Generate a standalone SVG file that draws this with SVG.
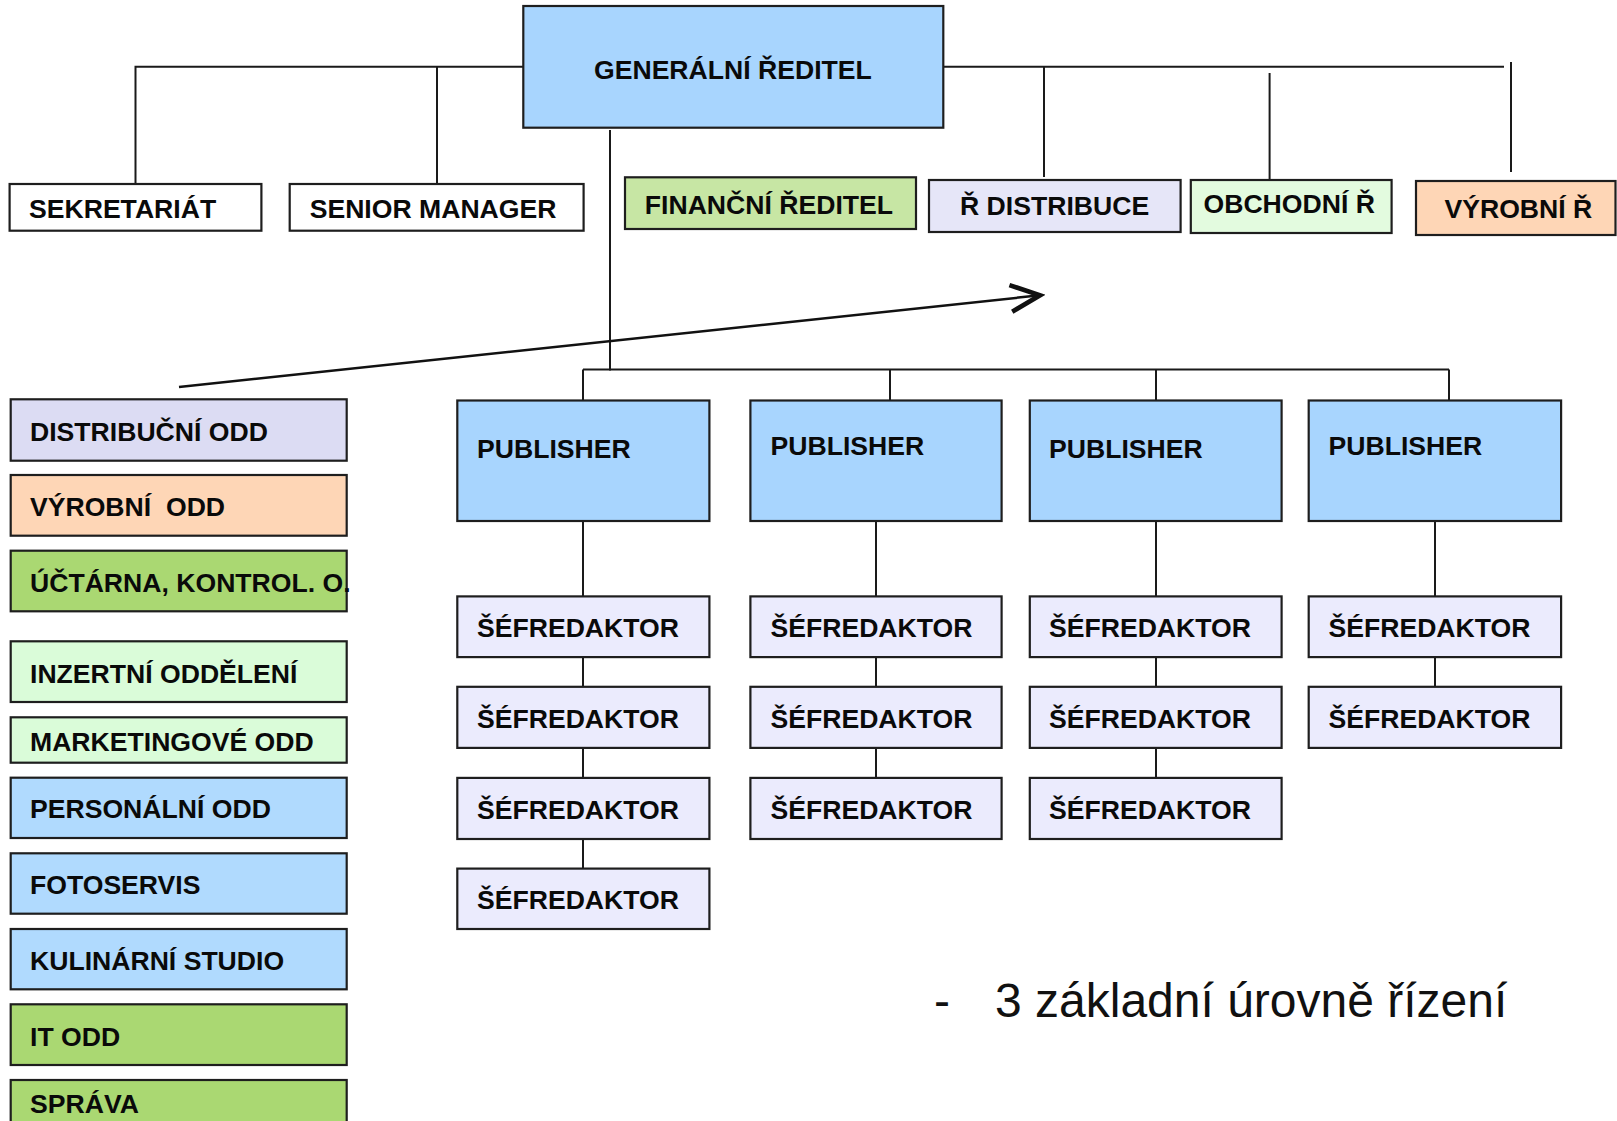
<svg xmlns="http://www.w3.org/2000/svg" width="1617" height="1121" viewBox="0 0 1617 1121">
<defs>
<style>
.b{stroke:#1e1e1e;stroke-width:2.2}
.t{font-family:"Liberation Sans",Arial,sans-serif;font-weight:bold;font-size:26.6px;fill:#0a0a0a}
.n{font-family:"Liberation Sans",Arial,sans-serif;font-size:48px;fill:#111}
.c{stroke:#1a1a1a;stroke-width:2;fill:none}
.blue{fill:#A8D5FE}
.lblue{fill:#B0DAFE}
.fgreen{fill:#C7E6A4}
.green{fill:#AAD872}
.lav{fill:#E6E6F8}
.dlav{fill:#DCDCF3}
.mint{fill:#E3FBDF}
.lmint{fill:#DAFCD9}
.peach{fill:#FED6B6}
.sef{fill:#EBEBFD}
.white{fill:#FFFFFF}
</style>
<marker id="chev" markerUnits="userSpaceOnUse" markerWidth="40" markerHeight="40" refX="0" refY="0" viewBox="-26 -14 30 28" orient="auto">
<path d="M -22 -10 L 0 0 L -22 10" fill="none" stroke="#111" stroke-width="3.5" stroke-linejoin="miter"/>
</marker>
</defs>
<rect width="1617" height="1121" fill="#FFFFFF"/>

<g id="connectors">
<polyline class="c" points="523,66.7 135.5,66.7 135.5,184"/>
<line class="c" x1="437" y1="66.7" x2="437" y2="184"/>
<line class="c" x1="939" y1="66.7" x2="1504" y2="66.7"/>
<line class="c" x1="1044" y1="66.7" x2="1044" y2="177"/>
<line class="c" x1="1269.6" y1="73" x2="1269.6" y2="182"/>
<line class="c" x1="1511" y1="62" x2="1511" y2="172"/>
<line class="c" x1="610" y1="130" x2="610" y2="370.5"/>
<line class="c" x1="583" y1="369.5" x2="1449" y2="369.5"/>
<line class="c" x1="583" y1="369.5" x2="583" y2="400"/>
<line class="c" x1="890" y1="369.5" x2="890" y2="400"/>
<line class="c" x1="1156" y1="369.5" x2="1156" y2="400"/>
<line class="c" x1="1449" y1="369.5" x2="1449" y2="400"/>
<line class="c" x1="583" y1="521" x2="583" y2="596"/>
<line class="c" x1="583" y1="657" x2="583" y2="687"/>
<line class="c" x1="583" y1="748" x2="583" y2="778"/>
<line class="c" x1="583" y1="839" x2="583" y2="869"/>
<line class="c" x1="876" y1="521" x2="876" y2="596"/>
<line class="c" x1="876" y1="657" x2="876" y2="687"/>
<line class="c" x1="876" y1="748" x2="876" y2="778"/>
<line class="c" x1="1156" y1="521" x2="1156" y2="596"/>
<line class="c" x1="1156" y1="657" x2="1156" y2="687"/>
<line class="c" x1="1156" y1="748" x2="1156" y2="778"/>
<line class="c" x1="1435" y1="521" x2="1435" y2="596"/>
<line class="c" x1="1435" y1="657" x2="1435" y2="687"/>
<line x1="179" y1="387" x2="1040" y2="295.3" stroke="#111" stroke-width="2.5" marker-end="url(#chev)"/>
</g>

<g id="generalni-reditel"><rect class="b blue" x="523.3" y="6" width="420" height="121.7"/><text class="t" x="594" y="79">GENERÁLNÍ ŘEDITEL</text></g>
<g id="sekretariat"><rect class="b white" x="9.6" y="184" width="251.8" height="46.7"/><text class="t" x="29" y="218.3">SEKRETARIÁT</text></g>
<g id="senior-manager"><rect class="b white" x="289.7" y="184" width="293.9" height="46.7"/><text class="t" x="309.7" y="218.3">SENIOR MANAGER</text></g>
<g id="financni-reditel"><rect class="b fgreen" x="625" y="177.3" width="291" height="51.7"/><text class="t" x="644.8" y="214">FINANČNÍ ŘEDITEL</text></g>
<g id="r-distribuce"><rect class="b lav" x="929" y="180" width="251.6" height="52"/><text class="t" x="960" y="215">Ř DISTRIBUCE</text></g>
<g id="obchodni-r"><rect class="b mint" x="1190.8" y="180" width="200.8" height="53"/><text class="t" x="1203.5" y="213.3">OBCHODNÍ Ř</text></g>
<g id="vyrobni-r"><rect class="b peach" x="1416" y="181" width="199.5" height="54"/><text class="t" x="1444.5" y="218.3">VÝROBNÍ Ř</text></g>

<g id="distribucni-odd"><rect class="b dlav" x="10.7" y="399.3" width="336" height="61.4"/><text class="t" x="30" y="440.7">DISTRIBUČNÍ ODD</text></g>
<g id="vyrobni-odd"><rect class="b peach" x="10.7" y="475" width="336" height="60.7"/><text class="t" x="30" y="515.7" xml:space="preserve">VÝROBNÍ  ODD</text></g>
<g id="uctarna"><rect class="b green" x="10.7" y="550.7" width="336" height="60.6"/><text class="t" x="30" y="591.7">ÚČTÁRNA, KONTROL. O.</text></g>
<g id="inzertni-oddeleni"><rect class="b lmint" x="10.7" y="641.3" width="336" height="60.7"/><text class="t" x="30" y="682.7">INZERTNÍ ODDĚLENÍ</text></g>
<g id="marketingove-odd"><rect class="b lmint" x="10.7" y="717.3" width="336" height="45.4"/><text class="t" x="30" y="751">MARKETINGOVÉ ODD</text></g>
<g id="personalni-odd"><rect class="b lblue" x="10.7" y="777.7" width="336" height="60.3"/><text class="t" x="30" y="818.3">PERSONÁLNÍ ODD</text></g>
<g id="fotoservis"><rect class="b lblue" x="10.7" y="853.3" width="336" height="60.4"/><text class="t" x="30" y="894">FOTOSERVIS</text></g>
<g id="kulinarni-studio"><rect class="b lblue" x="10.7" y="929" width="336" height="60.3"/><text class="t" x="30" y="970">KULINÁRNÍ STUDIO</text></g>
<g id="it-odd"><rect class="b green" x="10.7" y="1004.3" width="336" height="60.7"/><text class="t" x="30" y="1045.7">IT ODD</text></g>
<g id="sprava"><rect class="b green" x="10.7" y="1080" width="336" height="60"/><text class="t" x="30" y="1113">SPRÁVA</text></g>

<g id="publisher-1"><rect class="b blue" x="457.3" y="400.5" width="252.1" height="120.5"/><text class="t" x="477" y="458">PUBLISHER</text></g>
<g id="publisher-2"><rect class="b blue" x="750.4" y="400.5" width="251.2" height="120.5"/><text class="t" x="770.5" y="455">PUBLISHER</text></g>
<g id="publisher-3"><rect class="b blue" x="1029.8" y="400.5" width="251.8" height="120.5"/><text class="t" x="1049" y="457.7">PUBLISHER</text></g>
<g id="publisher-4"><rect class="b blue" x="1308.7" y="400.5" width="252.4" height="120.5"/><text class="t" x="1328.5" y="454.5">PUBLISHER</text></g>

<g id="sef-1-1"><rect class="b sef" x="457.3" y="596.4" width="252.1" height="60.7"/><text class="t" x="477" y="637">ŠÉFREDAKTOR</text></g>
<g id="sef-1-2"><rect class="b sef" x="457.3" y="686.8" width="252.1" height="61.1"/><text class="t" x="477" y="727.5">ŠÉFREDAKTOR</text></g>
<g id="sef-1-3"><rect class="b sef" x="457.3" y="777.9" width="252.1" height="61.1"/><text class="t" x="477" y="818.5">ŠÉFREDAKTOR</text></g>
<g id="sef-1-4"><rect class="b sef" x="457.3" y="868.6" width="252.1" height="60.4"/><text class="t" x="477" y="909.3">ŠÉFREDAKTOR</text></g>

<g id="sef-2-1"><rect class="b sef" x="750.4" y="596.4" width="251.2" height="60.7"/><text class="t" x="770.5" y="637">ŠÉFREDAKTOR</text></g>
<g id="sef-2-2"><rect class="b sef" x="750.4" y="686.8" width="251.2" height="61.1"/><text class="t" x="770.5" y="727.5">ŠÉFREDAKTOR</text></g>
<g id="sef-2-3"><rect class="b sef" x="750.4" y="777.9" width="251.2" height="61.1"/><text class="t" x="770.5" y="818.5">ŠÉFREDAKTOR</text></g>

<g id="sef-3-1"><rect class="b sef" x="1029.8" y="596.4" width="251.8" height="60.7"/><text class="t" x="1049" y="637">ŠÉFREDAKTOR</text></g>
<g id="sef-3-2"><rect class="b sef" x="1029.8" y="686.8" width="251.8" height="61.1"/><text class="t" x="1049" y="727.5">ŠÉFREDAKTOR</text></g>
<g id="sef-3-3"><rect class="b sef" x="1029.8" y="777.9" width="251.8" height="61.1"/><text class="t" x="1049" y="818.5">ŠÉFREDAKTOR</text></g>

<g id="sef-4-1"><rect class="b sef" x="1308.7" y="596.4" width="252.4" height="60.7"/><text class="t" x="1328.5" y="637">ŠÉFREDAKTOR</text></g>
<g id="sef-4-2"><rect class="b sef" x="1308.7" y="686.8" width="252.4" height="61.1"/><text class="t" x="1328.5" y="727.5">ŠÉFREDAKTOR</text></g>

<g id="note">
<text class="n" x="934" y="1017">-</text>
<text class="n" x="995" y="1017">3 základní úrovně řízení</text>
</g>
</svg>
